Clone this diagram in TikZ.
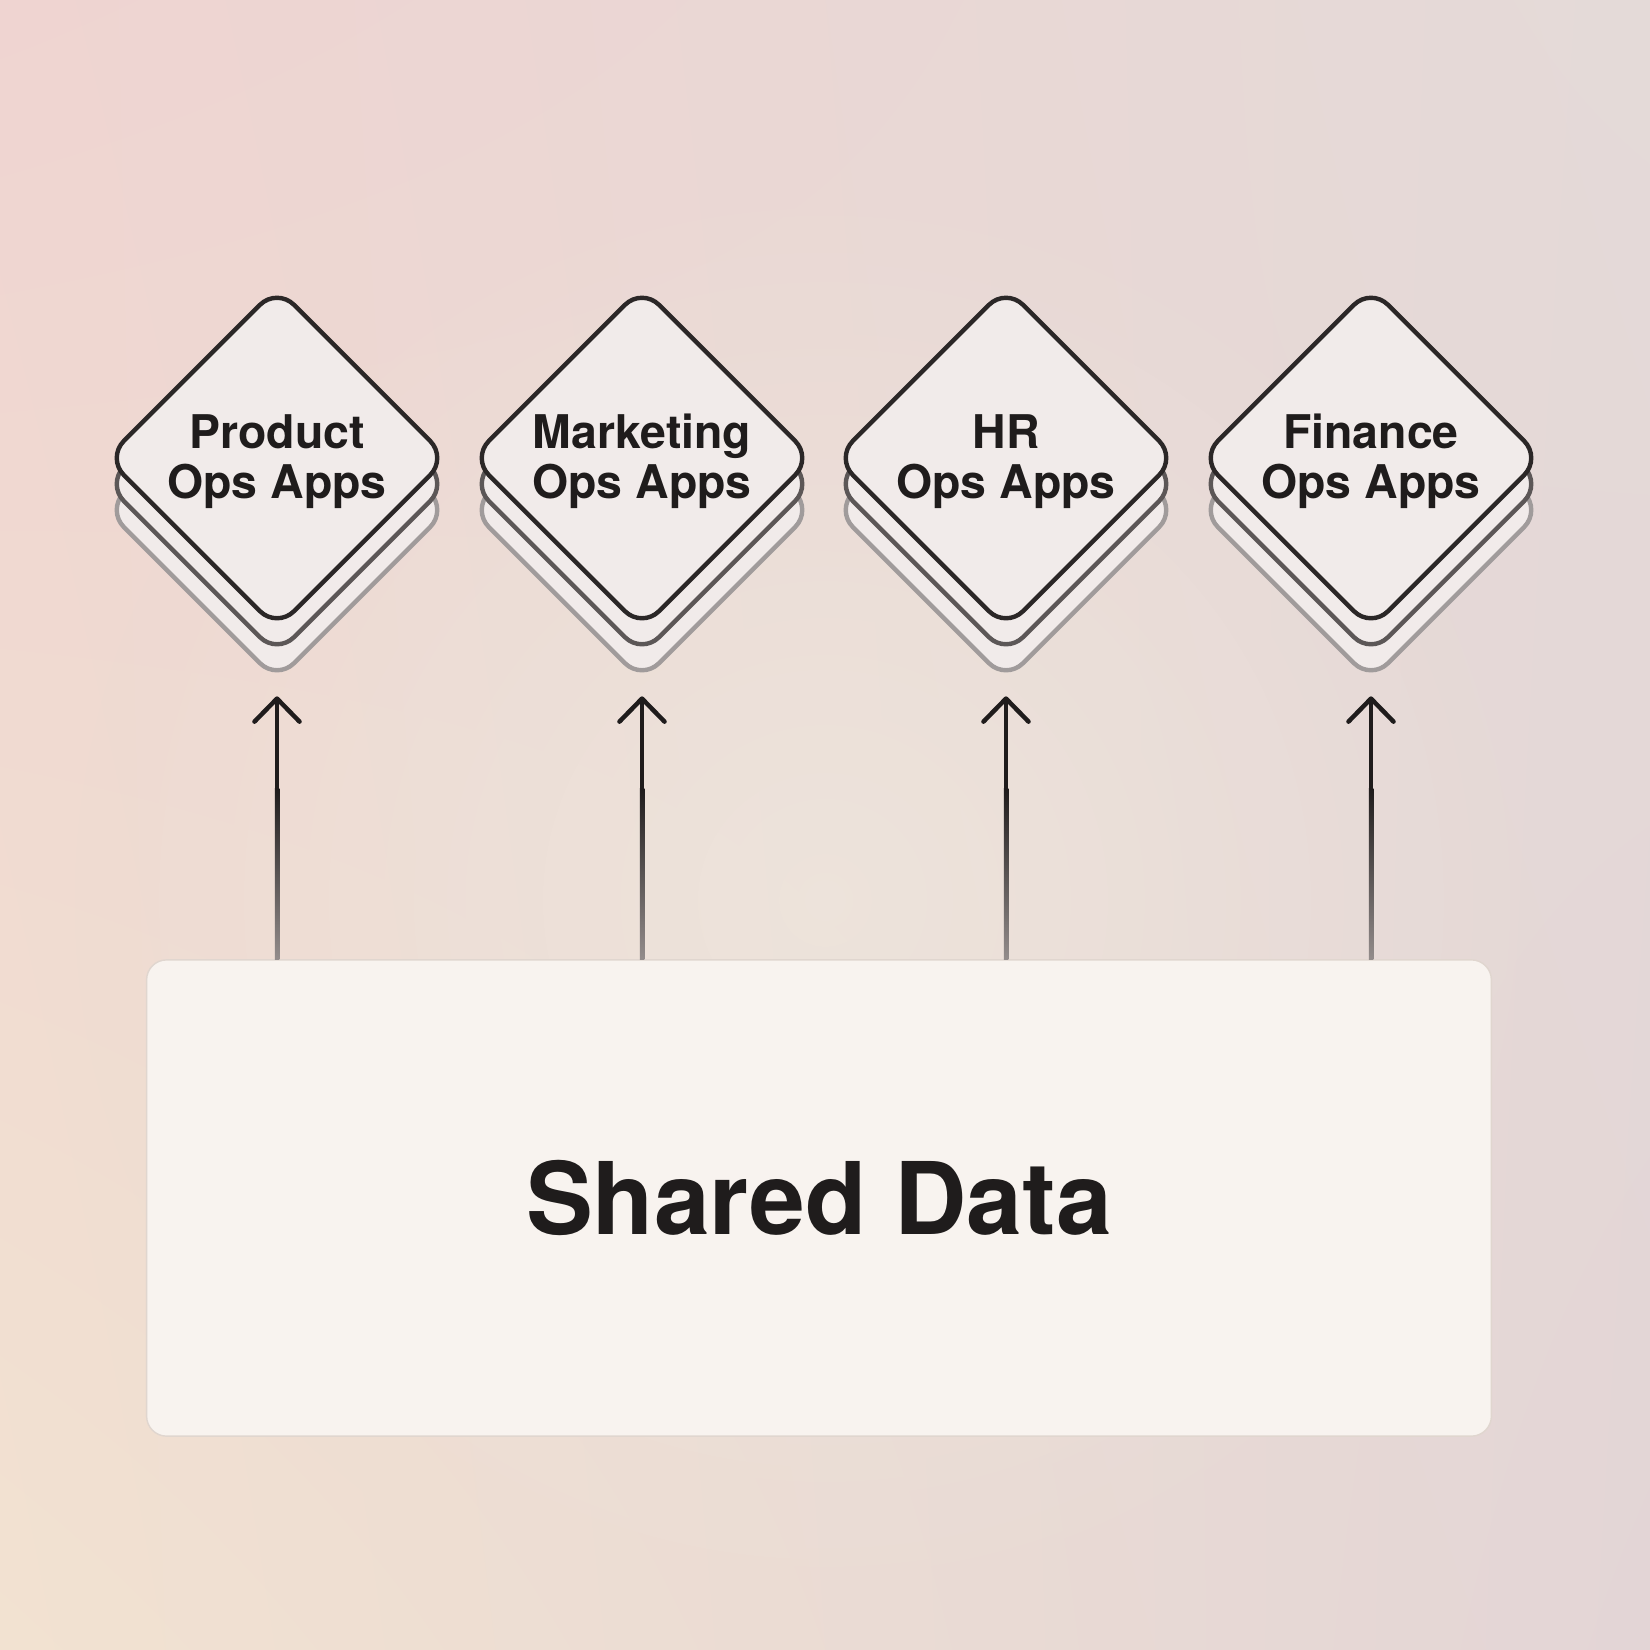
\documentclass[tikz,border=0pt]{standalone}
\usepackage{fontspec}
\setmainfont{TeX Gyre Heros}
\usetikzlibrary{shapes.geometric,arrows.meta,fadings,shadings,calc}
\definecolor{bgTL}{HTML}{EFD4D1}
\definecolor{bgTR}{HTML}{E4DAD8}
\definecolor{bgBL}{HTML}{F2E2D1}
\definecolor{bgBR}{HTML}{E3D5D6}
\definecolor{bgmid}{HTML}{EEE6DD}
\definecolor{ink}{HTML}{1F1C1C}
\definecolor{edgeone}{HTML}{2B2727}
\definecolor{edgetwo}{HTML}{5C5757}
\definecolor{edgethree}{HTML}{A09B9B}
\definecolor{appfill}{HTML}{F1EBEA}
\definecolor{boxfill}{HTML}{F8F3EF}
\definecolor{boxedge}{HTML}{E0D6CF}
\definecolor{linegray}{HTML}{938C8B}
\newcommand{\toppad}{\rule{0pt}{0.41cm}}
\tikzfading[name=softcircle, inner color=transparent!20, outer color=transparent!100]
\begin{document}
\begin{tikzpicture}[x=0.01cm,y=-0.01cm,
  appshape/.style={diamond, aspect=1, minimum width=3.42cm, minimum height=3.42cm,
    inner sep=0pt, rounded corners=0.24cm, line width=0.044cm, fill=appfill},
  app/.style={appshape, draw=edgeone, text=ink, align=center,
    font=\bfseries\fontsize{13.2pt}{14.2pt}\selectfont},
  layertwo/.style={appshape, draw=edgetwo},
  layerthree/.style={appshape, draw=edgethree},
  databox/.style={rectangle, rounded corners=0.2cm, minimum width=13.44cm,
    minimum height=4.76cm, fill=boxfill, draw=boxedge, line width=0.4pt,
    text=ink, font=\bfseries\fontsize{28.5pt}{30pt}\selectfont},
  conn/.style={line width=0.045cm, draw=ink, shorten >=0.65cm,
    -{Straight Barb[length=0.23cm, width=0.45cm, round]}},
  connfade/.style={top color=ink, bottom color=linegray}
]
\useasboundingbox (0,0) rectangle (1650,1650);
\shade[upper left=bgTL, upper right=bgTR, lower left=bgBL, lower right=bgBR]
  (0,0) rectangle (1650,1650);
\fill[bgmid, path fading=softcircle] (825,900) circle (750);

% stacked app diamonds
\foreach \n/\x in {1/277, 2/642, 3/1006, 4/1371}{
  \node[layerthree] (l3\n) at (\x,510) {};
  \node[layertwo] (l2\n) at (\x,484) {};
}
\node[app] (d1) at (277,458) {\toppad Product\\Ops Apps};
\node[app] (d2) at (642,458) {\toppad Marketing\\Ops Apps};
\node[app] (d3) at (1006,458) {\toppad HR\\Ops Apps};
\node[app] (d4) at (1371,458) {\toppad Finance\\Ops Apps};

% shared data box
\node[databox] (box) at (819,1198) {Shared Data};

% connectors (dark at the head, fading to grey at the box)
\foreach \n in {1,2,3,4}{
  \draw[conn] (box.north -| d\n.south) -- (d\n.south);
  \fill[ink] ($(box.north -| d\n.south)+(-2.25,-170)$) rectangle ($(box.north -| d\n.south)+(2.25,-256)$);
  \shade[connfade] ($(box.north -| d\n.south)+(-2.25,0)$) rectangle ($(box.north -| d\n.south)+(2.25,-170.5)$);
}
\end{tikzpicture}
\end{document}
